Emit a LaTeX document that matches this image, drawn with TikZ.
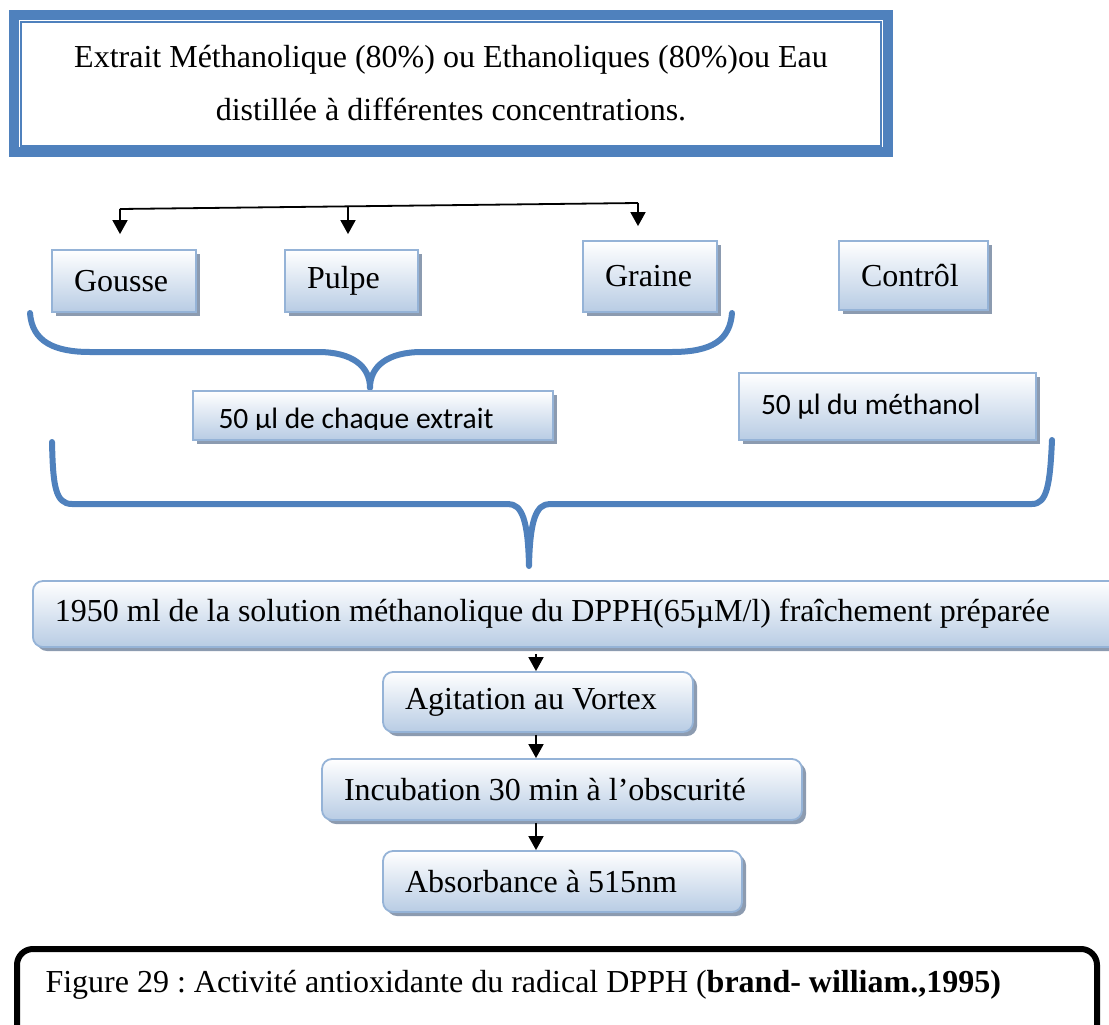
\documentclass[tikz,border=0pt]{standalone}
\usepackage{fontspec}
\setmainfont{Liberation Serif}
\newfontfamily\calibrifont{Carlito}
\usetikzlibrary{arrows.meta,shadows}
\definecolor{officeblue}{HTML}{4F81BD}
\definecolor{boxline}{HTML}{95B3D7}
\definecolor{boxfill}{HTML}{B8CCE4}
\definecolor{boxshadow}{HTML}{8C9BB0}
\frenchspacing

\begin{document}
\begin{tikzpicture}[x=1pt,y=-1pt,
	every node/.style={font=\fontsize{32}{38}\selectfont},
	bloc/.style={draw=boxline, line width=1.8pt, top color=white, bottom color=boxfill,
		drop shadow={shadow xshift=4pt, shadow yshift=-4pt, fill=boxshadow, opacity=1},
		inner xsep=22pt, inner ysep=0pt, align=flush left},
	etape/.style={bloc, rounded corners=10pt},
	calibri/.style={font=\calibrifont\fontsize{29.5}{36}\selectfont},
	accolade/.style={draw=officeblue, line width=6pt, line cap=round, line join=round},
	fleche/.style={line width=1.8pt, -{Triangle[width=15pt,length=14pt]}}]
	\useasboundingbox (0,0) rectangle (1109,1025);
	\node[draw=officeblue, line width=10pt, minimum width=874pt, minimum height=137pt,
		align=center, font=\fontsize{32}{53}\selectfont] (extrait) at (451,83.5)
		{Extrait Méthanolique (80\%) ou Ethanoliques (80\%)ou Eau\\distillée à différentes concentrations.};
	\draw[officeblue, line width=1.5pt] ([shift={(12,12)}]extrait.north west) rectangle ([shift={(-12,-11)}]extrait.south east);
	\node[bloc, text width=100pt, minimum height=62pt] (gousse) at (124,281) {Gousse};
	\node[bloc, text width=89pt, minimum height=62pt] (pulpe) at (351.5,281) {Pulpe};
	\node[bloc, text width=90pt, minimum height=71pt] (graine) at (650,276.5) {Graine};
	\node[bloc, text width=105pt, minimum height=69pt] (controle) at (913.5,275.5) {Contrôl};
	\coordinate (busG) at (120,209);
	\coordinate (busP) at (348,207);
	\coordinate (busR) at (638,203);
	\draw[line width=1.8pt] (busG) -- (busR);
	\draw[fleche, shorten >=15pt] (busG) -- (busG |- gousse.north);
	\draw[fleche, shorten >=15pt] (busP) -- (busP |- pulpe.north);
	\draw[fleche, shorten >=14pt] (busR) -- (busR |- graine.north);
	\draw[accolade] (30,313) .. controls (32,342) and (55,352) .. (90,352) -- (318,352)
		.. controls (352,352) and (370,366) .. (370,388)
		.. controls (370,366) and (388,352) .. (422,352) -- (672,352)
		.. controls (712,352) and (730,340) .. (732,313);
	\node[bloc, text width=316pt, minimum height=49pt] (chaque) at (373,415.5) {};
	\begin{scope}
		\clip (chaque.north west) rectangle ([shift={(0,-11)}]chaque.south east);
		\node[calibri, anchor=base west] (chaquetxt) at (215,428) {50 µl de chaque extrait};
	\end{scope}
	\node[bloc, calibri, text width=253pt, minimum height=67pt] (methanol) at (887.5,406.5) {50 µl du méthanol};
	\draw[accolade] (52,442) .. controls (53,485) and (55,504) .. (72,504) -- (508,504)
		.. controls (522,504) and (528,520) .. (529,566)
		.. controls (530,520) and (536,504) .. (550,504) -- (1032,504)
		.. controls (1047,504) and (1050,485) .. (1052,440);
	\node[etape, text width=1070pt, minimum height=66pt, anchor=west] (dpph) at (32,614)
		{1950 ml de la solution méthanolique du DPPH(65µM/l) fraîchement préparée};
	\node[etape, text width=266pt, minimum height=60pt] (agitation) at (538,702) {Agitation au Vortex};
	\node[etape, text width=436pt, minimum height=61pt] (incubation) at (562,789.5) {Incubation 30 min à l’obscurité};
	\node[etape, text width=315pt, minimum height=61pt] (absorbance) at (562.5,881.5) {Absorbance à 515nm};
	\coordinate (axe) at (536,0);
	\draw[fleche, shorten <=6pt] (axe |- dpph.south) -- (axe |- agitation.north);
	\draw[fleche, shorten <=2pt] (axe |- agitation.south) -- (axe |- incubation.north);
	\draw[fleche, shorten <=2pt] (axe |- incubation.south) -- (axe |- absorbance.north);
	\node[draw, line width=6pt, rounded corners=16pt, minimum width=1080pt, minimum height=120pt,
		anchor=north west] (legende) at (14,946) {};
	\node[anchor=base west, font=\fontsize{32}{38}\selectfont] (legendetxt) at ([shift={(28,46)}]legende.north west)
		{Figure 29 : Activité antioxidante du radical DPPH (\textbf{brand- william.,1995)}};
\end{tikzpicture}
\end{document}
